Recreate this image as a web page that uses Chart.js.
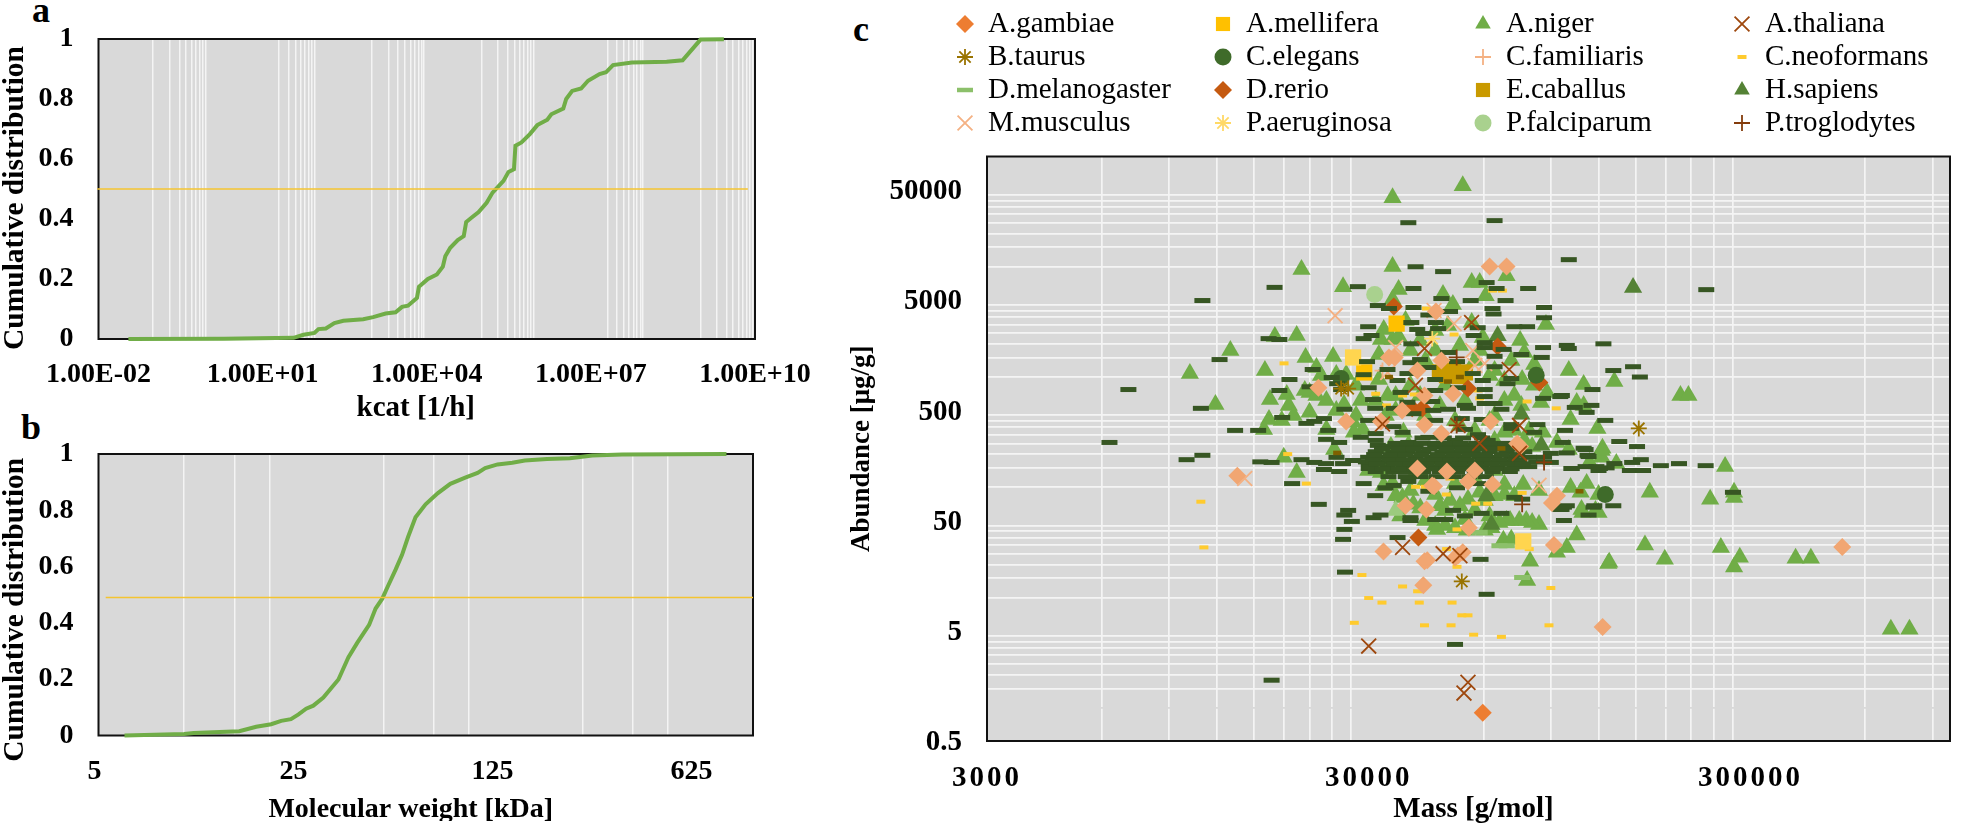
<!DOCTYPE html>
<html><head><meta charset="utf-8">
<script src="https://cdn.jsdelivr.net/npm/chart.js@4/dist/chart.umd.min.js"></script>
<style>
html,body{margin:0;padding:0;background:#fff;width:1963px;height:829px;overflow:hidden}
canvas{position:absolute}
.tag{position:absolute;font:bold 36px "Liberation Serif";color:#000;line-height:1;transform:translate(-50%,-50%)}
</style></head><body>
<div class="tag" style="left:41px;top:10px">a</div>
<div class="tag" style="left:31px;top:427px">b</div>
<div class="tag" style="left:861px;top:29px">c</div>
<canvas id="ca" width="835" height="421" style="left:0;top:0"></canvas>
<canvas id="cb" width="835" height="406" style="left:0;top:415px"></canvas>
<canvas id="cc" width="1123" height="829" style="left:840px;top:0"></canvas>
<script>
// ---- panel a
const kcatX=[0.0352,1.96,36.7,55.8,88.5,105,143,205,299,689,1047,1770,2692,3532,4539,6622,7194,10500,15310,19680,21830,26920,36900,47430,52600,62230,88720,124200,159600,252900,311900,392600,417800,538300,767400,1.05e6,1.6e6,1.89e6,3.13e6,3.54e6,4.55e6,6.64e6,8.89e6,1.44e7,1.89e7,2.54e7,5.62e7,2.43e8,4.75e8,1.01e9,2.7e9];
const kcatY=[0,.001,.004,.014,.02,.033,.035,.053,.061,.066,.073,.085,.089,.107,.111,.137,.174,.2,.215,.241,.276,.304,.33,.343,.39,.401,.423,.454,.488,.527,.557,.566,.644,.655,.683,.713,.731,.749,.768,.8,.827,.835,.861,.883,.889,.913,.922,.924,.929,.998,.999];
const kcatMajor=[0.01,10,10000,1e7,1e10];
const kcatLabels=["1.00E-02","1.00E+01","1.00E+04","1.00E+07","1.00E+10"];
const kcatGrid=[0.1,0.2,0.3,0.4,0.5,0.6,0.7,0.8,0.9,20,30,40,50,60,70,80,90,1000,2000,3000,4000,5000,6000,7000,8000,9000,1e5,2e5,3e5,4e5,5e5,6e5,7e5,8e5,9e5,2e7,3e7,4e7,5e7,6e7,7e7,8e7,9e7,1e9,2e9,3e9,4e9,5e9,6e9,7e9,8e9,9e9];
const medianA=[[0.0095,0.5],[7.4e9,0.5]];
// ---- panel b
const mwX=[6.17,10,10.8,15.6,17.9,20.2,21.9,23.7,25.2,26.8,28.4,30.8,34.8,37.7,40.5,44.6,47,49.6,52,55.3,58.2,61.1,64.9,70.4,77.8,86,97,107.2,114,126,142,157,188,226,271,345,802];
const mwY=[0,.005,.009,.015,.031,.04,.052,.058,.075,.095,.106,.135,.199,.277,.329,.393,.451,.486,.532,.59,.642,.705,.775,.821,.861,.894,.916,.933,.95,.963,.969,.977,.982,.985,.995,.998,1];
const mwMajor=[5,25,125,625];
const mwGrid=[10,15,20,50,75,100,250,375,500];
const medianB=[[5.3,0.49],[994,0.49]];
// ---- panel c
const massMajor=[3000,30000,300000];
const massGrid=[6000,9000,12000,15000,18000,21000,24000,27000,60000,90000,120000,150000,180000,210000,240000,270000,600000,900000];
const abundMajor=[0.5,5,50,500,5000,50000];
const abundGrid=[1,1.5,2,2.5,3,3.5,4,4.5,10,15,20,25,30,35,40,45,100,150,200,250,300,350,400,450,1000,1500,2000,2500,3000,3500,4000,4500,10000,15000,20000,25000,30000,35000,40000,45000];

const aNiger=[[34640,42300],[52900,54350],[20000,9420],[34640,10030],[25700,6600],[35930,6210],[34640,5040],[17030,2330],[19430,2380],[13020,1740],[10200,1075],[16040,1145],[20500,1505],[21890,1220],[24200,1535],[31900,1600],[11900,564],[16540,625],[18300,695],[18520,553],[19070,448],[16440,412],[15950,335],[17760,404],[21000,725],[20400,755],[21000,478],[25850,564],[23240,335],[33650,680],[31900,950],[46960,5590],[49850,4540],[55850,7190],[58600,7190],[68900,8310],[60750,5470],[55850,3120],[87400,2990],[74800,2140],[70900,1410],[76680,1670],[81390,1300],[75700,950],[100300,1145],[109700,856],[87950,725],[84800,588],[75300,553],[101400,412],[105200,588],[109700,553],[85800,315],[93360,255],[80400,234],[100300,220],[132000,911],[196700,680],[206400,680],[119200,342],[122900,226],[122300,187],[133600,164],[113600,168],[257500,154],[101400,99.5],[111700,108],[107700,90],[120000,86],[163500,90],[235300,78],[271800,90],[271800,81],[108900,59],[120000,59],[105200,37],[99100,28.5],[93360,25.7],[158800,30],[251000,28.5],[281400,23.2],[271800,18.9],[128000,20.9],[179000,22.3],[394000,22.7],[432000,22.7],[700000,5.17],[783000,5.17],[19430,136],[17970,187],[32820,103],[36770,81],[34640,108],[39260,70],[40960,65],[44810,45],[122300,216],[108300,63],[117800,61.7],[79400,21.3],[127300,20.4],[78000,14.3],[67600,33],[70900,33.7],[62900,43],[83800,46],[80400,48],[77600,50],[74400,50],[70400,50],[68900,50],[66000,48],[76200,106],[68050,106],[68050,86],[54600,78],[44810,86],[46100,68],[53600,51],[47560,45],[45300,41.5],[60400,40.7],[54200,40.7],[58600,90],[29900,142],[32300,136],[34300,168],[39770,136],[42200,115],[50500,108],[56900,120],[64100,142],[76700,266],[72200,328],[68000,315],[78900,328],[27300,388],[28960,335],[27440,315],[24360,220],[34300,234],[37000,315],[38130,240],[24670,1055],[26190,1055],[25400,930],[32850,2700],[32300,2190],[34640,2190],[35930,2330],[48400,2940],[59700,2280],[53600,613],[44810,1740],[42200,1410],[38600,1740],[38600,840],[47560,840],[58600,1740],[64100,1145],[68000,613],[68000,930],[72200,680],[62200,404],[31300,613],[28600,613],[35300,498],[42200,448],[52000,364],[64100,266],[81400,840],
[35300,84],[38600,93.7],[49000,76],[52000,68],[56900,61.7],[60400,76],[64100,84],[72200,84],[83800,93.7],[47560,61.7],[42200,50],[50500,43],[62200,55],[36300,55],
[22500,1030],[27800,840],[23240,613],[24670,498],[27800,448],[21890,680],
[37460,3250],[40900,2140],[44800,2640],[52000,1935],[56900,1410],[62200,1030],[40900,680],[46100,553],[50500,404],[56900,328],[64100,448],[35300,680],[33250,448]];
const hSapiens=[[65300,2370],[75300,459],[85000,240],[147800,6500],[62900,46],[61100,84]];
const nigerPale=[[35290,61.7]];
const peachDiamonds=[[62200,10030],[68900,10030],[45000,3920],[33900,1505],[35100,1505],[46500,1410],[40250,1145],[22150,800],[42000,680],[49900,705],[36700,498],[26190,396],[32300,396],[42000,370],[62600,396],[46500,307],[73500,250],[74800,234],[40250,148],[44000,104],[37460,68],[42500,63],[32800,26.2],[42000,21.3],[41700,12.9],[13580,127],[48100,139],[56900,142],[54600,113],[44500,102],[63300,106],[54900,43],[93400,84],[90600,72],[91700,30],[52900,25.7],[51400,24],[50500,23],[42700,21.8],[522000,28.7],[123000,5.4]];
const aGambiae=[[59700,0.9]];
const dRerio=[[34900,4350],[39000,520],[41500,520],[65300,1890],[84000,890],[40500,35],[54600,785]];
const aMellifera=[[29200,1100],[35500,3050],[27300,1505],[76200,32.3]];
const melliferaColors=["#ffc000","#ffc000","#ffd54f","#ffd54f"];
const pFalciparum=[[31100,5590]];
const cElegans=[[25400,970],[82400,1040],[125000,86]];
const aThaliana=[[42000,1815],[39770,840],[32600,375],[55800,3120],[70000,1170],[51400,364],[74500,364],[58600,250],[74500,203],[36800,28.5],[47000,25],[52000,24],[30000,3.63],[54600,1.7],[53300,1.36]];
const mMusculus=[[24500,3600],[35300,1850],[50200,3050],[44500,4010],[56200,1740],[56900,1275],[60400,1325],[83800,104],[14200,120],[33650,1100],[74500,203]];
const pAeruginosa=[[44000,2230]];
const bTaurus=[[52600,14],[25400,785],[153000,342],[26500,785]];
const pTroglodytes=[[75700,70],[86400,168],[51000,1505],[51000,364]];
const cFamiliaris=[[32600,1145],[53600,195]];
const eCaballus=[[46100,1100],[49900,1145],[53600,1100],[48100,1040],[52000,1020]];
const caballusDash=[[48400,910],[52000,1000],[33900,1000],[24800,205],[66800,225],[107000,92]];
const melanogasterPale=[[66000,29.5],[69000,29.5],[75700,15.2],[58600,39]];
const cNeoformans=[[18400,200],[20600,108],[10900,74],[11100,28.5],[28800,16],[36800,12.6],[40300,11.4],[30000,9.9],[32500,9],[40700,9],[49600,9],[52600,6.9],[54600,6.9],[27500,5.9],[42000,5.6],[49300,5.6],[56500,4.6],[66800,4.4],[89000,5.6],[90000,12.2],[51100,19],[48000,27.5],[51100,41.5],[79000,27.5],[75700,89],[57200,71],[61500,71],[47900,86],[39800,101],[42200,101],[49000,120],[18000,1330],[31300,705],[33400,553],[39500,695],[50200,2430],[63300,6080],[67200,6080],[42500,4180],[78000,600],[93000,520],[58000,755],[58600,640],[36800,680]];
const melanogasterDark=[[7040,770],[6280,255],[100300,11600],[229900,6200],[123600,2000],[99100,1935],[100300,1815],[131200,1145],[147800,1240],[154000,1000],[115700,770],[96200,680],[115000,553],[104000,530],[111700,478],[125000,404],[98000,328],[136000,260],[96700,255],[151400,234],[111000,220],[99100,205],[112300,195],[154900,178],[147000,168],[132000,164],[195000,164],[229000,157],[174800,157],[118500,154],[102000,148],[126000,150],[111000,154],[120000,142],[145000,142],[157000,142],[270000,90],[131200,68],[99100,68],[117000,68],[113000,56],[96000,63],[97400,50],
[38100,25100],[64100,26200],[39800,10000],[47000,9040],[17000,6500],[28100,6600],[39300,6350],[61100,7190],[64900,6350],[78500,6350],[11000,4940],[46500,5150],[55500,4940],[68500,4940],[31700,4450],[39300,4270],[33900,4180],[49000,3930],[63300,4180],[86400,4270],[43000,3650],[63700,3730],[86400,3450],[29900,2860],[38800,3120],[45000,3120],[57900,2800],[45600,2750],[72200,2860],[78000,2860],[30500,2380],[29100,2230],[40200,2700],[41700,2480],[56500,2380],[16400,2230],[17500,2190],[38800,2000],[60400,2050],[60400,1850],[67700,1780],[85900,1850],[12200,1440],[48400,1670],[75300,1600],[85200,1505],[38600,1350],[40900,1440],[51100,1380],[64100,1540],[21400,1170],[29700,1380],[33600,1170],[43000,1220],[64100,1240],[18600,950],[29100,1050],[24000,990],[44800,950],[35700,930],[56200,1075],[37900,1075],[70900,970],[69300,870],[21000,815],[17500,755],[24800,870],[25400,770],[30000,800],[59700,930],[60400,770],[51400,800],[44800,755],[36400,725],[30800,625],[37900,590],[60400,665],[44000,600],[85900,640],[95300,665],[60400,575],[53600,553],[25900,510],[31200,520],[34900,520],[39300,465],[44300,498],[48400,510],[54600,520],[66800,510],[10900,520],[64100,575],[17800,430],[22900,420],[21600,396],[20600,380],[44800,404],[52600,420],[59300,412],[70900,370],[29900,404],[34800,355],[83000,370],[70900,342],[13400,328],[15400,328],[23500,328],[81400,315],[31300,307],[36800,315],[53600,335],[58000,300],[23200,272],[28600,284],[31300,266],[38100,255],[43000,284],[50500,266],[61500,266],[25100,255],[31700,240],[46800,250],[54600,240],[109700,226],[38600,226],[63300,240],
[11000,195],[10000,178],[15600,170],[16700,168],[20000,178],[21600,168],[23200,164],[24700,187],[25700,164],[27300,175],[22900,145],[25100,139],[30000,164],[30000,148],[18900,108],[29100,108],[31200,84],[33200,99],[34900,104],[38100,113],[43000,92],[51100,99],[58000,108],[22200,70],[26500,61.7],[25900,56],[27100,49],[30900,53],[32200,56],[38600,53],[38600,50],[45600,51],[49900,61.7],[53600,55],[59300,58],[66800,58],[25900,41.5],[25700,33.7],[35700,35],[58900,22.2],[26000,17],[61100,10.7],[50500,3.76],[16700,1.78],[116400,66],[97400,66],[44800,51],[47600,51],[75700,78],[72200,81],[95300,63],
[33200,234],[36300,234],[39800,234],[44800,234],[49000,234],[53600,234],[60400,234],[66100,234],[72200,234],
[31300,210],[34800,210],[37900,210],[41700,210],[46800,210],[51100,210],[56200,210],[62200,210],[68900,210],[76700,210],
[29900,187],[32800,187],[35900,187],[39800,187],[44000,187],[48100,187],[53000,187],[58600,187],[64100,187],[70900,187],[79000,187],
[29500,170],[32300,170],[35300,170],[38600,170],[42200,170],[46100,170],[50500,170],[55200,170],[61100,170],[67200,170],[74400,170],[82400,170],
[30400,154],[33600,154],[37000,154],[40700,154],[44800,154],[49300,154],[53600,154],[59300,154],[65300,154],[72200,154],[79000,154],
[31300,139],[34800,139],[37900,139],[41700,139],[46100,139],[51100,139],[56900,139],[63300,139],[70300,139],
[90000,168],[102000,148],[121000,148],[113000,190],[90000,203],[86400,187],
[35300,250],[38000,250],[41200,250],[45000,250],[48700,250],[52300,250],[57500,250],[62500,250],[68500,250],
[32500,222],[36000,222],[39200,222],[43200,222],[48000,222],[52800,222],[58000,222],[64000,222],[70000,222],
[31000,198],[34200,198],[37400,198],[41200,198],[45500,198],[50000,198],[55000,198],[60500,198],[67000,198],[73500,198],
[30800,178],[34000,178],[37000,178],[40600,178],[44600,178],[49000,178],[54000,178],[59800,178],[66000,178],[72800,178],
[31500,163],[35000,163],[38500,163],[42500,163],[46900,163],[51800,163],[57200,163],[63000,163],[69500,163],[76000,163],
[32600,147],[36000,147],[39500,147],[43500,147],[48000,147],[52800,147],[58000,147],[64500,147],[71000,147],
[33800,125],[37500,125],[41000,125],[45200,125],[50000,125],[55000,125],[60800,125],
[41500,280],[47200,280],[53000,280],[59500,280]];

// legend, read left to right and row by row
const legendNames=["A.gambiae","A.mellifera","A.niger","A.thaliana","B.taurus","C.elegans","C.familiaris","C.neoformans","D.melanogaster","D.rerio","E.caballus","H.sapiens","M.musculus","P.aeruginosa","P.falciparum","P.troglodytes"];

const plotBg="#d9d9d9", gridWhite="#f4f4f4", curveGreen="#70ad47", medianYellow="#f4c430";

function frame(){return {id:"frame",
  beforeDraw(c){const a=c.chartArea,x=c.ctx;x.save();x.fillStyle=plotBg;x.fillRect(a.left,a.top,a.width,a.height);x.restore();},
  beforeDatasetsDraw(c){const a=c.chartArea,x=c.ctx;x.save();x.strokeStyle="#111";x.lineWidth=2;x.strokeRect(a.left,a.top,a.width,a.height);x.restore();}};}

const serif=(size,weight)=>({family:"'Liberation Serif'",size,weight:weight||"bold",lineHeight:1});
const zip=(a,b)=>a.map((v,i)=>[v,b[i]]);
// nudges a scale's title or tick text to where the reference has it
function nudge(s,method,dx,dy,spacing){
  const key="_n_"+method;if(s[key])return;s[key]=1;
  const orig=s[method];
  s[method]=function(a){const k=this.ctx;k.save();k.translate(dx,dy);if(spacing)k.letterSpacing=spacing;orig.call(this,a);k.restore();};
}

function curveChart(id,cfg){
  new Chart(document.getElementById(id),{type:"scatter",
    data:{datasets:[
      {data:zip(cfg.xs,cfg.ys),showLine:true,tension:0,borderColor:curveGreen,borderWidth:4,pointRadius:0,clip:false,order:1},
      {data:cfg.median,showLine:true,tension:0,borderColor:medianYellow,borderWidth:1.6,pointRadius:0,clip:false,order:0}]},
    options:{responsive:false,animation:false,events:[],
      layout:{padding:{left:0,top:cfg.top,right:cfg.right,bottom:0}},
      plugins:{legend:{display:false},tooltip:{enabled:false}},
      scales:{
        x:{type:"logarithmic",min:cfg.min,max:cfg.max,border:{display:false},
          afterBuildTicks(s){s.ticks=[...cfg.major,...cfg.grid].sort((p,q)=>p-q).map(v=>({value:v}));},
          afterFit(s){s.height=cfg.xh;},
          afterUpdate(s){nudge(s,"drawTitle",cfg.tdx,cfg.tdy);nudge(s,"drawLabels",0,2);},
          grid:{drawTicks:false,lineWidth:1.5,color:t=>t.tick&&cfg.grid.includes(t.tick.value)?gridWhite:"rgba(0,0,0,0)"},
          ticks:{autoSkip:false,maxRotation:0,minRotation:0,padding:cfg.tp,labelOffset:cfg.lo||0,color:"#000",font:serif(28),
            callback(v){const i=cfg.major.indexOf(v);return i<0?"":cfg.labels[i];}},
          title:{display:true,text:cfg.xt,color:"#000",font:serif(cfg.xf||29),padding:0}},
        y:{type:"linear",min:0,max:1,border:{display:false},
          afterBuildTicks(s){s.ticks=[0,.2,.4,.6,.8,1].map(v=>({value:v}));},
          afterFit(s){s.width=98.5;},
          afterUpdate(s){nudge(s,"drawTitle",1,cfg.ydy);},
          grid:{display:false,drawTicks:false},
          ticks:{padding:25,color:"#000",font:serif(28),callback:v=>String(v)},
          title:{display:true,text:"Cumulative distribution",color:"#000",font:serif(29.5),padding:0}}}},
    plugins:[frame()]});
}
curveChart("ca",{xs:kcatX,ys:kcatY,median:medianA,min:0.01,max:1e10,major:kcatMajor,labels:kcatLabels,grid:kcatGrid,xt:"kcat [1/h]",top:39,right:80,xh:82,tp:20,tdx:-11,tdy:2.5,ydy:9});
curveChart("cb",{xs:mwX,ys:mwY,median:medianB,min:5,max:994,major:mwMajor,labels:mwMajor.map(String),grid:mwGrid,xt:"Molecular weight [kDa]",xf:28,top:31,right:82,xh:85.5,tp:20,lo:-4,tdx:-15,tdy:3,ydy:15});

// marker styles
const S={
  tri:(col)=>({pointStyle:"triangle",radius:10.5,bg:col,bd:col,bw:0}),
  dia:(col)=>({pointStyle:"rectRot",radius:9,bg:col,bd:col,bw:0}),
  sq:(col)=>({pointStyle:"rect",radius:11.5,bg:col,bd:col,bw:0}),
  dot:(col)=>({pointStyle:"circle",radius:8.5,bg:col,bd:col,bw:0}),
  x:(col)=>({pointStyle:"crossRot",radius:10.5,bg:col,bd:col,bw:1.8}),
  plus:(col)=>({pointStyle:"cross",radius:8,bg:col,bd:col,bw:1.8}),
  star:(col)=>({pointStyle:"star",radius:8,bg:col,bd:col,bw:1.8}),
  dash:(col,r,w)=>({pointStyle:"line",radius:r,bg:col,bd:col,bw:w})
};
// bottom of the pile first
const layers=[
  ["A.niger",aNiger,S.tri("#70ad47")],
  ["A.niger",nigerPale,S.tri("#9ccb7e")],
  ["H.sapiens",hSapiens,S.tri("#548235")],
  ["C.neoformans",cNeoformans,S.dash("#ffcb2e",4.5,4)],
  ["E.caballus",eCaballus,S.sq("#c99a00")],
  ["A.mellifera",aMellifera,S.sq("#ffc000")],
  ["M.musculus",mMusculus,S.x("#f4b183")],
  ["C.familiaris",cFamiliaris,S.plus("#f4b183")],
  ["P.aeruginosa",pAeruginosa,S.star("#ffd966")],
  ["D.rerio",dRerio,S.dia("#c55a11")],
  ["P.falciparum",pFalciparum,S.dot("#a9d18e")],
  ["C.elegans",cElegans,S.dot("#3f6b2a")],
  ["D.melanogaster",melanogasterDark,S.dash("#375623",8,5)],
  ["D.melanogaster",melanogasterPale,S.dash("#8cc06a",8,5)],
  ["E.caballus",caballusDash,S.dash("#7f6000",4,4.5)],
  ["B.taurus",bTaurus,S.star("#997300")],
  ["P.troglodytes",pTroglodytes,S.plus("#843c0c")],
  ["A.gambiae",peachDiamonds,S.dia("#f1a672")],
  ["A.gambiae",aGambiae,S.dia("#ed7d31")],
  ["A.thaliana",aThaliana,S.x("#9e480e")]
];
const legendStyle={
  "A.gambiae":S.dia("#ed7d31"),"A.mellifera":{...S.sq("#ffc000"),radius:10},"A.niger":{...S.tri("#70ad47"),radius:9},"A.thaliana":S.x("#9e480e"),
  "B.taurus":S.star("#997300"),"C.elegans":S.dot("#3f6b2a"),"C.familiaris":S.plus("#f4b183"),"C.neoformans":S.dash("#ffcb2e",4.5,4),
  "D.melanogaster":S.dash("#8cc06a",8,4.5),"D.rerio":S.dia("#c55a11"),"E.caballus":{...S.sq("#c99a00"),radius:10},"H.sapiens":{...S.tri("#548235"),radius:9},
  "M.musculus":S.x("#f4b183"),"P.aeruginosa":S.star("#ffd966"),"P.falciparum":S.dot("#a9d18e"),"P.troglodytes":S.plus("#843c0c")
};
const legendCols=[125,383,643,902], legendRows=[24,57,90,123];

const legendPlugin={id:"fourColumnLegend",afterDraw(c){
  const x=c.ctx;x.save();
  legendNames.forEach((n,i)=>{
    const cx=legendCols[i%4],cy=legendRows[Math.floor(i/4)],st=legendStyle[n];
    x.fillStyle=st.bg;x.strokeStyle=st.bd;x.lineWidth=st.bw;
    Chart.helpers.drawPoint(x,{pointStyle:st.pointStyle,radius:st.radius,rotation:0,borderWidth:st.bw},cx,cy);
    x.fillStyle="#000";x.font="29px 'Liberation Serif'";x.textBaseline="middle";x.textAlign="left";
    x.fillText(n,cx+23,cy);
  });
  x.restore();
}};

new Chart(document.getElementById("cc"),{type:"scatter",
  data:{datasets:layers.map(([label,data,st],i)=>({label,data,clip:false,order:layers.length-i,
    pointStyle:st.pointStyle,pointRadius:st.radius,
    pointBackgroundColor:data===aMellifera?melliferaColors:st.bg,
    pointBorderColor:st.bd,pointBorderWidth:st.bw}))},
  options:{responsive:false,animation:false,events:[],
    layout:{padding:{left:8.5,top:156.5,right:2,bottom:0}},
    plugins:{legend:{display:false},tooltip:{enabled:false}},
    scales:{
      x:{type:"logarithmic",min:3000,max:1000000,border:{display:false},
        afterBuildTicks(s){s.ticks=[...massMajor,...massGrid].sort((p,q)=>p-q).map(v=>({value:v}));},
        afterFit(s){s.height=88;},
        afterUpdate(s){nudge(s,"drawLabels",0,1,"3px");nudge(s,"drawTitle",5,0);},
        grid:{drawTicks:false,lineWidth:1.7,color:t=>t.tick&&massGrid.includes(t.tick.value)?gridWhite:"rgba(0,0,0,0)"},
        ticks:{autoSkip:false,maxRotation:0,minRotation:0,padding:22,color:"#000",font:serif(29),
          callback:v=>massMajor.includes(v)?String(v):""},
        title:{display:true,text:"Mass [g/mol]",color:"#000",font:serif(29),padding:{top:0,bottom:4.5}}},
      y:{type:"logarithmic",min:0.5,max:100000,border:{display:false},
        afterBuildTicks(s){s.ticks=[...abundMajor,...abundGrid].sort((p,q)=>p-q).map(v=>({value:v}));},
        afterFit(s){s.width=138.5;},
        afterUpdate(s){nudge(s,"drawLabels",0,2);},
        grid:{drawTicks:false,lineWidth:1.7,color:t=>!t.tick?"rgba(0,0,0,0)":t.tick.value===1?plotBg:abundGrid.includes(t.tick.value)?gridWhite:"rgba(0,0,0,0)"},
        ticks:{autoSkip:false,padding:25,color:"#000",font:serif(29),callback:v=>abundMajor.includes(v)?String(v):""},
        title:{display:true,text:"Abundance [μg/g]",color:"#000",font:serif(27),padding:0}}}},
  plugins:[frame(),legendPlugin]});
</script>
</body></html>
